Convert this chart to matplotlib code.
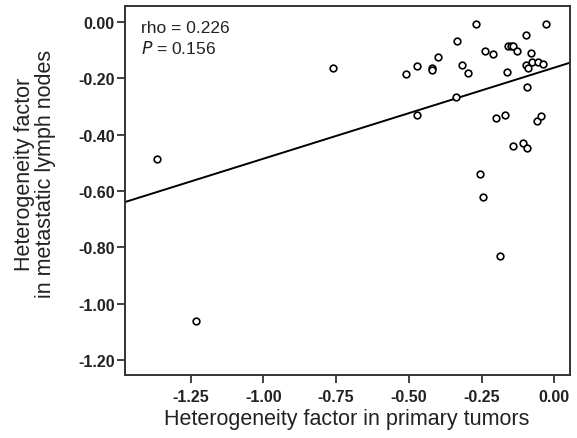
import numpy as np
import matplotlib
matplotlib.use("Agg")
import matplotlib.pyplot as plt

plt.rcParams["font.family"] = ["Liberation Sans", "DejaVu Sans"]

# heterogeneity factor, primary tumor (x) vs metastatic lymph node (y)
primary = [-1.367, -1.232, -0.760, -0.511, -0.473, -0.471, -0.421, -0.420,
           -0.399, -0.338, -0.336, -0.318, -0.298, -0.268, -0.254, -0.244,
           -0.239, -0.212, -0.200, -0.186, -0.170, -0.164, -0.160, -0.150,
           -0.141, -0.141, -0.128, -0.108, -0.097, -0.097, -0.094, -0.093,
           -0.089, -0.081, -0.076, -0.061, -0.057, -0.046, -0.039, -0.028]
lymph = [-0.487, -1.063, -0.163, -0.185, -0.157, -0.329, -0.165, -0.169,
         -0.123, -0.265, -0.069, -0.152, -0.181, -0.006, -0.539, -0.622,
         -0.104, -0.115, -0.340, -0.830, -0.329, -0.179, -0.085, -0.085,
         -0.085, -0.439, -0.104, -0.431, -0.046, -0.153, -0.230, -0.448,
         -0.164, -0.111, -0.141, -0.353, -0.141, -0.334, -0.149, -0.006]

# fit line as drawn in the figure
fit_intercept = -0.162
fit_slope = 0.3235

rho_text = "rho = 0.226"
p_text = "$\\mathit{P}$ = 0.156"

xticks = [-1.25, -1.00, -0.75, -0.50, -0.25, 0.00]
yticks = [0.00, -0.20, -0.40, -0.60, -0.80, -1.00, -1.20]

W, H = 577, 439
my_dpi = 100
fig = plt.figure(figsize=(W / my_dpi, H / my_dpi), dpi=my_dpi)
ax = fig.add_axes([125 / W, 1 - 376 / H, 445 / W, 369.3 / H])

ax.axline((0, fit_intercept), slope=fit_slope, color="black", lw=1.4, zorder=2)
ax.plot(primary, lymph, "o", mfc="white", mec="black", ms=4.8, mew=1.2,
        zorder=3)

ax.set_xlim(-1.476, 0.054)
ax.set_ylim(-1.254, 0.058)

ax.set_xticks(xticks)
ax.set_xticklabels(["%.2f" % v for v in xticks])
ax.set_yticks(yticks)
ax.set_yticklabels(["%.2f" % v for v in yticks])
ax.tick_params(axis="both", direction="out", length=6, width=1.3,
               color="#333333", labelsize=11.5)
ax.tick_params(axis="y", pad=1.5)
ax.tick_params(axis="x", pad=4)
for lbl in ax.get_xticklabels() + ax.get_yticklabels():
    lbl.set_fontweight("bold")
    lbl.set_color("#222222")

for s in ax.spines.values():
    s.set_linewidth(1.4)
    s.set_color("#333333")

ax.text(0.036, 0.942, rho_text, transform=ax.transAxes, fontsize=12.5,
        va="center", ha="left", color="#222222")
ax.text(0.036, 0.888, p_text, transform=ax.transAxes, fontsize=12.5,
        va="center", ha="left", color="#222222")

fig.text(347 / W, 1 - 420 / H, "Heterogeneity factor in primary tumors",
         ha="center", va="center", fontsize=15.5, color="#222222")
fig.text(35 / W, 1 - 174 / H, "Heterogeneity factor\nin metastatic lymph nodes",
         rotation=90, ha="center", va="center", fontsize=15.5,
         linespacing=1.0, color="#222222")

fig.savefig("out.png", dpi=my_dpi)
